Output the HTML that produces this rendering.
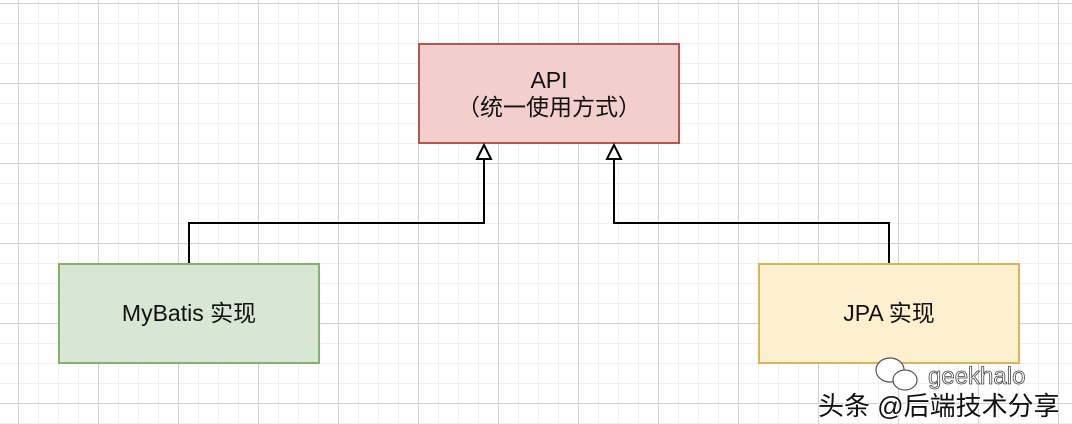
<!DOCTYPE html>
<html><head><meta charset="utf-8"><style>
html,body{margin:0;padding:0;}
body{width:1072px;height:424px;overflow:hidden;background:#fff;position:relative;
font-family:"Liberation Sans","Noto Sans CJK SC",sans-serif;}
.grid{position:absolute;inset:0;
background-image:
linear-gradient(#d0d0d0 1px,transparent 1px),
linear-gradient(90deg,#d0d0d0 1px,transparent 1px),
linear-gradient(#f0f0f0 1px,transparent 1px),
linear-gradient(90deg,#f0f0f0 1px,transparent 1px);
background-size:80px 80px,80px 80px,20px 20px,20px 20px;
background-position:0 3px,18px 0,0 3px,18px 0;}
.box{position:absolute;box-sizing:border-box;width:262px;height:101px;border:2px solid;
display:flex;align-items:center;justify-content:center;text-align:center;font-size:23px;line-height:27px;color:#111;}
</style></head><body>
<div class="grid"></div>
<div class="box" style="left:418px;top:43px;background:#f2cecd;border-color:#b85450;">API<br>（统一使用方式）</div>
<div class="box" style="left:58px;top:263px;background:#d8e6d4;border-color:#82b366;">MyBatis 实现</div>
<div class="box" style="left:758px;top:263px;background:#fdf0cf;border-color:#d6b656;">JPA 实现</div>
<svg width="1072" height="424" style="position:absolute;left:0;top:0">
<polyline points="189,263 189,223 484,223 484,158" fill="none" stroke="#000" stroke-width="2"/>
<polyline points="889,263 889,223 614,223 614,158" fill="none" stroke="#000" stroke-width="2"/>
<polygon points="484,145 477,159 491,159" fill="#fff" stroke="#000" stroke-width="2"/>
<polygon points="614,145 607,159 621,159" fill="#fff" stroke="#000" stroke-width="2"/>
<g fill="#fff" stroke="#555" stroke-width="1.2">
<ellipse cx="890" cy="370" rx="14" ry="12"/>
<ellipse cx="905" cy="380" rx="12" ry="10"/>
</g>
<text x="928" y="384" font-family="Liberation Sans,sans-serif" font-size="24" fill="#fff" stroke="#444" stroke-width="0.8">geekhalo</text>
</svg>
<div style="position:absolute;left:818px;top:386px;font-size:26px;color:#111;text-shadow:1px 1px 0 #fff,-1px -1px 0 #fff;white-space:nowrap;font-family:'Liberation Sans','Noto Sans CJK SC',sans-serif;">头条 @后端技术分享</div>
</body></html>
